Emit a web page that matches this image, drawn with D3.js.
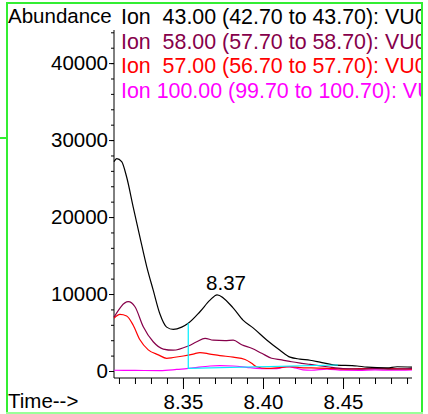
<!DOCTYPE html>
<head>
    <meta charset="utf-8">
    <script src="https://d3js.org/d3.v7.min.js"></script>
    <style>
        body {
            margin: 0;
            background: #fff;
        }
        svg text {
            font-family: "Liberation Sans", Arial, sans-serif;
            font-size: 20.5px;
        }
        .trace {
            fill: none;
            stroke-width: 1.2;
        }
        .frame {
            stroke: #33ee33;
            stroke-width: 2;
        }
    </style>
</head>
<body>
    <script>
        // time (min), abundance
        var ion43 = [[8.3069, 27200], [8.3086, 27600], [8.3117, 27200], [8.3148, 25200], [8.3189, 21300],
            [8.3231, 17400], [8.3273, 13600], [8.3314, 10500], [8.3356, 7400], [8.3398, 5700], [8.3439, 5400],
            [8.3492, 5700], [8.3533, 6200], [8.3606, 7700], [8.3669, 9200], [8.3713, 9900], [8.3813, 8200],
            [8.3875, 6600], [8.3938, 5600], [8.4025, 4000], [8.4106, 2700], [8.4169, 1800], [8.4231, 1550],
            [8.4294, 1400], [8.4356, 1150], [8.4438, 800], [8.4588, 650], [8.465, 500], [8.4775, 400],
            [8.4838, 550], [8.4931, 500]];
        var ion58 = [[8.3069, 7000], [8.3158, 9000], [8.32, 8350], [8.3252, 5750], [8.3314, 3800],
            [8.3377, 2850], [8.3439, 2700], [8.3533, 3250], [8.3586, 3800], [8.3638, 4250], [8.3689, 4000],
            [8.3763, 3950], [8.3814, 4000], [8.3867, 3400], [8.3929, 2950], [8.3992, 2300], [8.4054, 1650],
            [8.4117, 1450], [8.4179, 1200], [8.4242, 1000], [8.4294, 850], [8.44, 550], [8.45, 300],
            [8.46, 250], [8.47, 300], [8.48, 250], [8.4931, 300]];
        var ion57 = [[8.3069, 6850], [8.3106, 7350], [8.3148, 7150], [8.3189, 5950], [8.3231, 4050],
            [8.3283, 2750], [8.3346, 2100], [8.3398, 1650], [8.3439, 1750], [8.3502, 1950], [8.3564, 2200],
            [8.3606, 2400], [8.3669, 2200], [8.3731, 2000], [8.3814, 1800], [8.3888, 1500], [8.3929, 1000],
            [8.396, 550], [8.4023, 350], [8.4106, 450], [8.4169, 550], [8.4231, 450], [8.43, 400],
            [8.44, 350], [8.45, 250], [8.46, 300], [8.47, 350], [8.48, 300], [8.4931, 250]];
        var ion100 = [[8.3069, 100], [8.32, 80], [8.3356, 50], [8.346, 200], [8.3564, 420], [8.3669, 650],
            [8.3731, 700], [8.3813, 650], [8.3898, 480], [8.396, 350], [8.4023, 300], [8.4085, 300],
            [8.4148, 550], [8.42, 400], [8.425, 150], [8.43, 100], [8.44, 250], [8.45, 100], [8.46, 80],
            [8.47, 150], [8.48, 100], [8.4931, 150]];

        // integration of the 8.37 peak: start/end of the baseline
        var peakTime = 8.3713, peakValue = 9900, peakLabel = "8.37";
        var baseline = [[8.3533, 330], [8.4469, 780]];
        var baseTop = 6200;

        var legend = [
            ["Ion  43.00 (42.70 to 43.70): VU0", "#000000", ion43],
            ["Ion  58.00 (57.70 to 58.70): VU0", "#86004a", ion58],
            ["Ion  57.00 (56.70 to 57.70): VU0", "#ff0000", ion57],
            ["Ion 100.00 (99.70 to 100.70): VU", "#ff00ff", ion100]
        ];
        var yTicks = [0, 10000, 20000, 30000, 40000];
        var xTicks = [8.35, 8.40, 8.45];

        var width = 428, height = 414;
        var svg = d3.select("body").append("svg")
            .attr("width", width)
            .attr("height", height);

        var x = d3.scaleLinear().domain([8.3069, 8.4931]).range([114, 412]),
            y = d3.scaleLinear().domain([0, 44300]).range([371, 30]),
            axisY = 378;

        svg.append("clipPath").attr("id", "clip")
            .append("rect").attr("x", 0).attr("y", 0).attr("width", 421).attr("height", height);

        // green frame
        var frame = svg.append("g").attr("class", "frame");
        frame.append("line").attr("x1", 7).attr("x2", 7).attr("y1", 3).attr("y2", 414);
        frame.append("line").attr("x1", 6).attr("x2", 423).attr("y1", 3).attr("y2", 3);
        frame.append("line").attr("x1", 422).attr("x2", 422).attr("y1", 3).attr("y2", 414);
        frame.append("line").attr("x1", 6).attr("x2", 423).attr("y1", 413).attr("y2", 413)
            .style("stroke", "#99ff99");
        frame.append("line").attr("x1", 0).attr("x2", 7).attr("y1", 138).attr("y2", 138);

        // y axis
        var gy = svg.append("g").attr("transform", "translate(114,0)");
        gy.call(d3.axisLeft(y).tickValues(d3.range(0, 44001, 2000)).tickSize(3).tickFormat(""))
            .call(function(g) { g.select(".domain").remove(); });
        gy.append("g")
            .call(d3.axisLeft(y).tickValues(yTicks).tickSize(5).tickPadding(1).tickFormat(d3.format("d")))
            .call(function(g) { g.select(".domain").remove(); });
        gy.append("line").attr("x1", 0).attr("x2", 0).attr("y1", y.range()[1]).attr("y2", axisY)
            .attr("stroke", "#000");

        // x axis
        var gx = svg.append("g").attr("transform", "translate(0," + axisY + ")");
        gx.call(d3.axisBottom(x).tickValues(d3.range(8.31, 8.495, 0.01)).tickSize(6).tickFormat(""))
            .call(function(g) { g.select(".domain").remove(); });
        gx.append("g")
            .call(d3.axisBottom(x).tickValues(xTicks).tickSize(11).tickPadding(5).tickFormat(d3.format(".2f")))
            .call(function(g) { g.select(".domain").remove(); });
        gx.append("line").attr("x1", x.range()[0]).attr("x2", x.range()[1]).attr("stroke", "#000");

        svg.selectAll(".tick text")
            .style("font-family", "'Liberation Sans', Arial, sans-serif")
            .style("font-size", "20.5px")
            .attr("fill", "#000");
        svg.selectAll(".tick line").attr("stroke", "#000");

        svg.append("text").attr("x", 8).attr("y", 23).text("Abundance");
        svg.append("text").attr("x", 8).attr("y", 408).text("Time-->");

        // traces
        var line = d3.line()
            .x(function(d) { return x(d[0]); })
            .y(function(d) { return y(d[1]); })
            .curve(d3.curveMonotoneX);

        var plot = svg.append("g").attr("clip-path", "url(#clip)");
        legend.slice().reverse().forEach(function(s) {
            plot.append("path")
                .attr("class", "trace")
                .attr("d", line(s[2]))
                .attr("stroke", s[1]);
        });

        // integration baseline (cyan)
        plot.append("path")
            .attr("class", "trace")
            .attr("stroke", "#00eeff")
            .attr("d", d3.line()
                .x(function(d) { return x(d[0]); })
                .y(function(d) { return y(d[1]); })([[baseline[0][0], baseTop]].concat(baseline)));

        svg.append("text")
            .attr("x", x(peakTime) + 9)
            .attr("y", y(peakValue) - 5)
            .attr("text-anchor", "middle")
            .text(peakLabel);

        // legend, clipped by the frame like the original
        var lg = svg.append("g").attr("clip-path", "url(#clip)");
        lg.selectAll("text")
            .data(legend)
            .enter().append("text")
            .attr("x", 121)
            .attr("y", function(d, i) { return 24 + i * 24.5; })
            .attr("fill", function(d) { return d[1]; })
            .style("font-size", "21.4px")
            .style("white-space", "pre")
            .attr("xml:space", "preserve")
            .text(function(d) { return d[0]; });
    </script>
</body>
